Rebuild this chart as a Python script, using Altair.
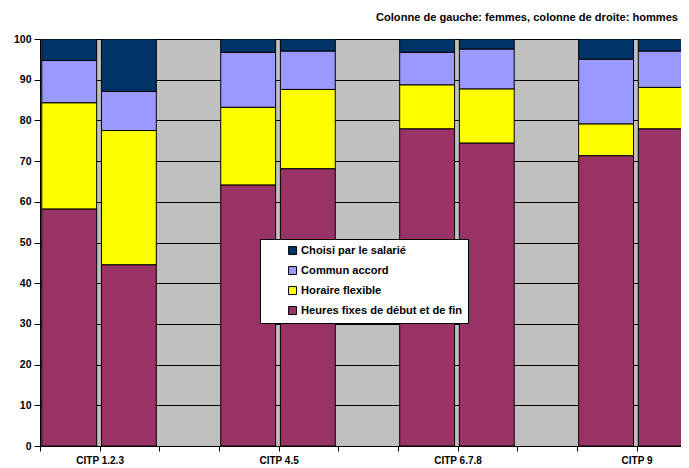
import altair as alt
import pandas as pd

groups = ["CITP 1.2.3", "CITP 4.5", "CITP 6.7.8", "CITP 9"]
sexes = ["Femmes", "Hommes"]
categories = ["Choisi par le salarié", "Commun accord", "Horaire flexible",
              "Heures fixes de début et de fin"]
colors = ["#003366", "#9999FF", "#FFFF00", "#993366"]

# order: F1, H1, F2, H2, F3, H3, F4, H4
heures_fixes = [58.2, 44.5, 64.1, 68.1, 77.9, 74.4, 71.3, 77.9]
horaire_flexible = [26.1, 33.0, 19.1, 19.5, 10.8, 13.3, 7.8, 10.2]
commun_accord = [10.4, 9.6, 13.5, 9.4, 8.0, 9.8, 15.9, 8.9]
choisi = [5.3, 12.9, 3.3, 3.0, 3.3, 2.5, 5.0, 3.0]

series = {
    categories[0]: choisi,
    categories[1]: commun_accord,
    categories[2]: horaire_flexible,
    categories[3]: heures_fixes,
}
stack_rank = {categories[3]: 0, categories[2]: 1, categories[1]: 2, categories[0]: 3}

rows = []
for gi, g in enumerate(groups):
    for si, s in enumerate(sexes):
        idx = gi * 2 + si
        slot = gi * 3 + si
        for cat, vals in series.items():
            rows.append({"groupe": g, "sexe": s, "slot": slot, "categorie": cat,
                         "valeur": vals[idx], "rang": stack_rank[cat]})
df = pd.DataFrame(rows)

label_map = {gi * 3 + 1: g for gi, g in enumerate(groups)}
label_expr = " : ".join([f"datum.value == {k} ? '{v}'" for k, v in label_map.items()]) + " : ''"

FONT = "Liberation Sans"
PLOT_W = 641
SLOT_PX = 59.65

chart = alt.Chart(df).transform_stack(
    stack="valeur", groupby=["slot"], as_=["v0", "v1"],
    sort=[alt.SortField("rang", order="ascending")]
).transform_calculate(
    x0="datum.slot + 0.03", x1="datum.slot + 0.95"
).mark_bar(clip=True, stroke="#000000", strokeWidth=1).encode(
    x=alt.X("x0:Q", scale=alt.Scale(domain=[0, PLOT_W / SLOT_PX], nice=False, zero=False, padding=0),
            axis=alt.Axis(values=list(range(0, 11)), labelExpr=label_expr, title=None,
                          grid=False, tickSize=5, labelPadding=4, labelFont=FONT,
                          labelFontSize=10, labelFontWeight="bold", labelColor="#000",
                          domainColor="#000", tickColor="#000", labelFlush=False,
                          labelOverlap=False)),
    x2="x1:Q",
    y=alt.Y("v0:Q", scale=alt.Scale(domain=[0, 100], nice=False, padding=0),
            axis=alt.Axis(values=list(range(0, 101, 10)), title=None, grid=True,
                          gridColor="#000", gridWidth=1, gridOpacity=1, tickSize=6,
                          labelPadding=3, labelFont=FONT, labelFontSize=10.5,
                          labelFontWeight="bold", labelColor="#000", domainColor="#000",
                          tickColor="#000")),
    y2="v1:Q",
    color=alt.Color("categorie:N", scale=alt.Scale(domain=categories, range=colors),
                    legend=alt.Legend(title=None, orient="none", legendX=220, legendY=200,
                                      fillColor="#FFFFFF", strokeColor="#000000",
                                      padding=6, symbolType="square", symbolSize=64,
                                      symbolStrokeColor="#000000", symbolStrokeWidth=1,
                                      labelFont=FONT, labelFontSize=11.1,
                                      labelFontWeight="bold", labelColor="#000",
                                      labelLimit=400,
                                      labelExpr="datum.label + '\u00a0\u00a0\u00a0'",
                                      rowPadding=7, symbolOffset=21, labelOffset=3)),
).properties(
    width=PLOT_W, height=407,
    autosize=alt.AutoSizeParams(type="none"),
    padding={"left": 32, "top": 31, "right": 0, "bottom": 22},
    title=alt.TitleParams("Colonne de gauche: femmes, colonne de droite: hommes",
                          anchor="start", frame="group", dx=336, offset=11, font=FONT,
                          fontSize=11.1, fontWeight="bold", color="#000"),
).configure_view(fill="#C0C0C0", strokeWidth=0)

chart.save("out.html", embed_options={"renderer": "svg", "actions": False})
